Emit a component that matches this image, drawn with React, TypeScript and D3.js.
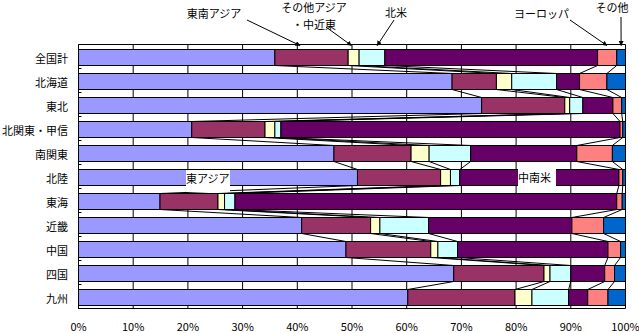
import React from "react";
import * as d3 from "d3";

const categories = ["全国計", "北海道", "東北", "北関東・甲信", "南関東", "北陸", "東海", "近畿", "中国", "四国", "九州"];
const seriesNames = ["東アジア", "東南アジア", "その他アジア・中近東", "北米", "中南米", "ヨーロッパ", "その他"];
const seriesColors = ["#9999FF", "#993366", "#FFFFCC", "#CCFFFF", "#660066", "#FF8080", "#0066CC"];

const eastAsia = [35.9, 68.3, 73.7, 20.7, 46.7, 51.0, 14.9, 40.8, 48.9, 68.6, 60.2];
const southeastAsia = [13.4, 8.1, 15.2, 13.4, 14.1, 15.2, 10.6, 12.6, 15.5, 16.5, 19.6];
const otherAsia = [2.0, 2.8, 0.9, 1.8, 3.3, 1.8, 1.2, 1.7, 1.3, 1.1, 3.1];
const northAmerica = [4.7, 8.2, 2.4, 1.1, 7.6, 1.7, 1.9, 8.9, 3.6, 3.8, 6.7];
const latinAmerica = [38.9, 4.2, 5.5, 62.0, 19.4, 29.1, 69.8, 26.2, 27.5, 6.2, 3.5];
const europe = [3.5, 5.0, 1.6, 0.5, 6.5, 0.7, 1.0, 5.8, 2.3, 1.8, 3.7];
const others = [1.6, 3.4, 0.7, 0.5, 2.4, 0.5, 0.6, 4.0, 0.9, 2.0, 3.2];

const seriesValues = [eastAsia, southeastAsia, otherAsia, northAmerica, latinAmerica, europe, others];
const xTicks = [0, 10, 20, 30, 40, 50, 60, 70, 80, 90, 100];

// annotations: label lines, text center, arrow start, arrow target (percent on 全国計 row)
const annotations = [
  { lines: ["東南アジア"], tx: 214, ty: [12.5], sx: 247, sy: 20, target: 40.5 },
  { lines: ["その他アジア", "・中近東"], tx: 314, ty: [7, 23.5], sx: 326, sy: 27, target: 49.9 },
  { lines: ["北米"], tx: 396, ty: [11.5], sx: 394, sy: 20, target: 54.6 },
  { lines: ["ヨーロッパ"], tx: 541.5, ty: [12.5], sx: 570, sy: 20, target: 96.6 },
  { lines: ["その他"], tx: 612, ty: [7], sx: 621, sy: 17, target: 99.2 },
];
const innerLabels = [
  { text: "東アジア", x: 186, y: 170, w: 44, h: 22 },
  { text: "中南米", x: 518, y: 169, w: 38, h: 17 },
];

const FONT = "'Noto Sans CJK JP', 'Noto Sans', sans-serif";

export default function App() {
  const width = 639;
  const height = 333;
  const x = d3.scaleLinear().domain([0, 100]).range([78.5, 625.5]);
  const y = d3
    .scaleBand<string>()
    .domain(categories)
    .range([44.5, 308.5])
    .paddingInner(1 / 3)
    .paddingOuter(1 / 6)
    .align(0.625);
  const bw = y.bandwidth();

  const table = categories.map((c, i) => {
    const row: any = { cat: c };
    seriesNames.forEach((s, j) => (row[s] = seriesValues[j][i]));
    return row;
  });
  const stacked = d3.stack<any>().keys(seriesNames)(table);

  const topY = 44.5;
  const botY = 308.5;
  const step = y.step();
  const boundaries = d3.range(categories.length + 1).map((k) => topY + k * step);

  return (
    <svg width={width} height={height} style={{ position: "absolute", left: 0, top: 0, background: "#fff" }} fontFamily={FONT}>
      <defs>
        <marker id="arr" viewBox="0 0 10 10" refX="9" refY="5" markerWidth="5" markerHeight="5" orient="auto">
          <path d="M0,0 L10,5 L0,10 z" fill="#000" />
        </marker>
      </defs>
      <rect x={x(0)} y={topY} width={x(100) - x(0)} height={botY - topY} fill="#fff" />
      {xTicks.slice(1).map((t) => (
        <line key={"g" + t} x1={x(t)} x2={x(t)} y1={topY} y2={botY} stroke="#000" strokeWidth={1} />
      ))}
      <line x1={x(0)} x2={x(100)} y1={topY} y2={topY} stroke="#000" />
      {stacked.map((s, j) =>
        categories.slice(0, -1).map((c, i) => (
          <line
            key={`sl${j}-${i}`}
            x1={x(s[i][1])}
            y1={(y(c) as number) + bw}
            x2={x(s[i + 1][1])}
            y2={y(categories[i + 1]) as number}
            stroke="#000"
            strokeWidth={1}
          />
        ))
      )}
      {stacked.map((s, j) =>
        s.map((d, i) => (
          <rect
            key={`b${j}-${i}`}
            x={x(d[0])}
            y={y(categories[i])}
            width={Math.max(0, x(d[1]) - x(d[0]))}
            height={bw}
            fill={seriesColors[j]}
            stroke="#000"
            strokeWidth={1}
          />
        ))
      )}
      <line x1={x(0)} x2={x(0)} y1={topY} y2={botY + 0.5} stroke="#000" />
      <line x1={x(0)} x2={x(100)} y1={botY} y2={botY} stroke="#000" />
      {boundaries.map((b, k) => (
        <line key={"yt" + k} x1={x(0)} x2={x(0) + 3} y1={b} y2={b} stroke="#000" />
      ))}
      {categories.map((c) => (
        <text
          key={"c" + c}
          x={68}
          y={(y(c) as number) + bw / 2}
          textAnchor="end"
          dominantBaseline="central"
          fontSize={11}
          fill="#000"
        >
          {c}
        </text>
      ))}
      {xTicks.map((t) => (
        <text key={"xt" + t} x={x(t)} y={326} textAnchor="middle" dominantBaseline="central" fontSize={11} fill="#000">
          {t + "%"}
        </text>
      ))}
      {innerLabels.map((l) => (
        <g key={"il" + l.text}>
          <rect x={l.x} y={l.y} width={l.w} height={l.h} fill="#fff" />
          <text x={l.x} y={l.y + 8} dominantBaseline="central" fontSize={11} fill="#000">
            {l.text}
          </text>
        </g>
      ))}
      {annotations.map((a, k) => (
        <g key={"an" + k}>
          {a.lines.map((ln, m) => (
            <text key={m} x={a.tx} y={a.ty[m]} textAnchor="middle" dominantBaseline="central" fontSize={11} fill="#000">
              {ln}
            </text>
          ))}
          <line
            x1={a.sx}
            y1={a.sy}
            x2={x(a.target)}
            y2={(y(categories[0]) as number) - 4}
            stroke="#000"
            strokeWidth={1}
            markerEnd="url(#arr)"
          />
        </g>
      ))}
    </svg>
  );
}
